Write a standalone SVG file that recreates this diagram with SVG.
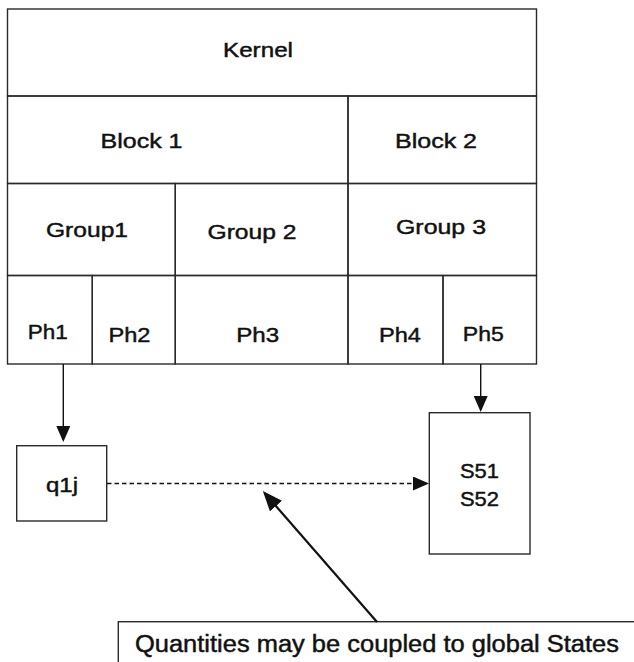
<svg xmlns="http://www.w3.org/2000/svg" width="634" height="662" viewBox="0 0 634 662">
  <style>
    .cell { fill: none; stroke: #2a2a2a; stroke-width: 1.4; }
    .box { fill: #ffffff; stroke: #2a2a2a; stroke-width: 1.4; }
    .lbl { font-family: "Liberation Sans", Arial, sans-serif; font-size: 21px; fill: #111; stroke: #111; stroke-width: 0.45; text-anchor: middle; }
    .note { font-family: "Liberation Sans", Arial, sans-serif; font-size: 23px; fill: #111; stroke: #111; stroke-width: 0.45; }
    .link { fill: none; stroke: #111; stroke-width: 1.4; }
    .dash { stroke-dasharray: 4.5 3; stroke-width: 1.6; }
    .thick { stroke-width: 2.2; }
  </style>
  <defs>
    <marker id="head" markerUnits="userSpaceOnUse" markerWidth="18" markerHeight="16" refX="14" refY="7" orient="auto">
      <path d="M0,0 L16,7 L0,14 z" fill="#111"/>
    </marker>
    <marker id="headBig" markerUnits="userSpaceOnUse" markerWidth="22" markerHeight="18" refX="17" refY="8" orient="auto">
      <path d="M0,0 L20,8 L0,16 z" fill="#111"/>
    </marker>
  </defs>

  <rect width="634" height="662" fill="#ffffff"/>

  <!-- hierarchy table -->
  <g id="kernel">
    <rect class="cell" x="7.5" y="9" width="529" height="87"/>
    <text class="lbl" x="258" y="57" textLength="70" lengthAdjust="spacingAndGlyphs">Kernel</text>
  </g>
  <g id="block1">
    <rect class="cell" x="7.5" y="96" width="340.5" height="87.5"/>
    <text class="lbl" x="141.5" y="148" textLength="82" lengthAdjust="spacingAndGlyphs">Block 1</text>
  </g>
  <g id="block2">
    <rect class="cell" x="348" y="96" width="188.5" height="87.5"/>
    <text class="lbl" x="436" y="148" textLength="82" lengthAdjust="spacingAndGlyphs">Block 2</text>
  </g>
  <g id="group1">
    <rect class="cell" x="7.5" y="183.5" width="167.8" height="92"/>
    <text class="lbl" x="87" y="237" textLength="82" lengthAdjust="spacingAndGlyphs">Group1</text>
  </g>
  <g id="group2">
    <rect class="cell" x="175.3" y="183.5" width="172.7" height="92"/>
    <text class="lbl" x="252" y="238.5" textLength="89" lengthAdjust="spacingAndGlyphs">Group 2</text>
  </g>
  <g id="group3">
    <rect class="cell" x="348" y="183.5" width="188.5" height="92"/>
    <text class="lbl" x="441" y="233.5" textLength="90" lengthAdjust="spacingAndGlyphs">Group 3</text>
  </g>
  <g id="ph1">
    <rect class="cell" x="7.5" y="275.5" width="84.8" height="88.5"/>
    <text class="lbl" x="47.7" y="338.5" textLength="40" lengthAdjust="spacingAndGlyphs">Ph1</text>
  </g>
  <g id="ph2">
    <rect class="cell" x="92.3" y="275.5" width="83" height="88.5"/>
    <text class="lbl" x="129.5" y="341.7" textLength="42" lengthAdjust="spacingAndGlyphs">Ph2</text>
  </g>
  <g id="ph3">
    <rect class="cell" x="175.3" y="275.5" width="172.7" height="88.5"/>
    <text class="lbl" x="257.7" y="341.7" textLength="43" lengthAdjust="spacingAndGlyphs">Ph3</text>
  </g>
  <g id="ph4">
    <rect class="cell" x="348" y="275.5" width="95" height="88.5"/>
    <text class="lbl" x="400" y="341.7" textLength="42" lengthAdjust="spacingAndGlyphs">Ph4</text>
  </g>
  <g id="ph5">
    <rect class="cell" x="443" y="275.5" width="93.5" height="88.5"/>
    <text class="lbl" x="483.3" y="340.7" textLength="41" lengthAdjust="spacingAndGlyphs">Ph5</text>
  </g>

  <!-- quantity and state boxes -->
  <g id="q1j">
    <rect class="box" x="16.7" y="445.7" width="90" height="75.3"/>
    <text class="lbl" x="62" y="492" textLength="32" lengthAdjust="spacingAndGlyphs">q1j</text>
  </g>
  <g id="states">
    <rect class="box" x="429.3" y="412.7" width="100.7" height="141.3"/>
    <text class="lbl" x="479.5" y="477.7" textLength="39" lengthAdjust="spacingAndGlyphs">S51</text>
    <text class="lbl" x="479.5" y="506" textLength="39" lengthAdjust="spacingAndGlyphs">S52</text>
  </g>
  <g id="note">
    <rect class="box" x="118.3" y="621.7" width="540" height="60"/>
    <text class="note" x="135" y="652" textLength="484" lengthAdjust="spacingAndGlyphs">Quantities may be coupled to global States</text>
  </g>

  <!-- connectors -->
  <g id="connectors">
    <line class="link" x1="63.3" y1="364" x2="63.3" y2="440" marker-end="url(#head)"/>
    <line class="link" x1="480.7" y1="364" x2="480.7" y2="410" marker-end="url(#head)"/>
    <line class="link dash" x1="107" y1="483.5" x2="427" y2="483.5" marker-end="url(#head)"/>
    <line class="link thick" x1="377" y1="622" x2="264.8" y2="493.3" marker-end="url(#headBig)"/>
  </g>
</svg>
